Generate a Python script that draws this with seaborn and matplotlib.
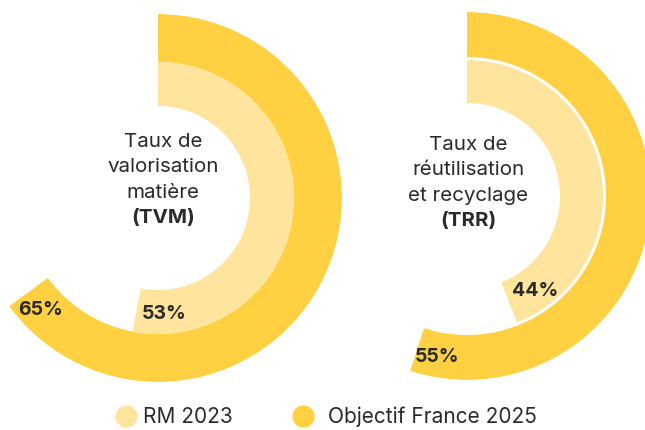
import numpy as np
import matplotlib
matplotlib.use("Agg")
import matplotlib.pyplot as plt
from matplotlib.lines import Line2D
import seaborn as sns

# ---- data ----
charts = ["TVM", "TRR"]
titles = [["Taux de", "valorisation", "matière"], ["Taux de", "réutilisation", "et recyclage"]]
abbrev = ["(TVM)", "(TRR)"]
rm_2023 = [53, 44]          # inner ring (RM 2023)
objectif_2025 = [65, 55]    # outer ring (Objectif France 2025)
series_labels = ["RM 2023", "Objectif France 2025"]

# ---- style ----
sns.set_theme(style="white")
plt.rcParams['font.family'] = ['Inter', 'DejaVu Sans']
LIGHT = "#FFE49E"
DARK = "#FFD142"
TXT = "#2a2a2a"

W, H = 645, 430
fig = plt.figure(figsize=(W / 100, H / 100), dpi=100)

R = 184
centers = [(158, 198), (467, 196)]
ring_outer = [(136, 184), (139, 184)]
ring_inner = [(92, 136), (93, 136)]
text_off = [(5, 18), (1, 13)]

for i, (cx, cy) in enumerate(centers):
    ax = fig.add_axes([(cx - R) / W, (H - cy - R) / H, 2 * R / W, 2 * R / H],
                      projection="polar")
    ax.set_theta_zero_location("N")
    ax.set_theta_direction(-1)
    ax.set_ylim(0, R)
    ax.set_axis_off()

    t_out = objectif_2025[i] / 100 * 2 * np.pi
    t_in = rm_2023[i] / 100 * 2 * np.pi
    ax.bar(0, ring_outer[i][1] - ring_outer[i][0], width=t_out, bottom=ring_outer[i][0],
           align="edge", color=DARK, linewidth=0)
    ax.bar(0, ring_inner[i][1] - ring_inner[i][0], width=t_in, bottom=ring_inner[i][0],
           align="edge", color=LIGHT, linewidth=0)

    # value labels near the end of each arc
    r_o = (ring_outer[i][0] + ring_outer[i][1]) / 2 + 2
    r_i = (ring_inner[i][0] + ring_inner[i][1]) / 2 + 2
    ax.text(t_out - np.deg2rad(7.5), r_o, f"{objectif_2025[i]}%", ha="center", va="center",
            fontsize=14, fontweight="bold", color=TXT)
    ax.text(t_in - np.deg2rad(14), r_i, f"{rm_2023[i]}%", ha="center", va="center",
            fontsize=14, fontweight="bold", color=TXT)

    # centre text
    dx, dy = text_off[i]
    lines = titles[i] + [abbrev[i]]
    n = len(lines)
    spacing = 25.5
    for k, line in enumerate(lines):
        yy = dy + (n - 1) / 2 * spacing - k * spacing
        ax.text(0.5 + dx / (2 * R), 0.5 + yy / (2 * R), line, transform=ax.transAxes,
                ha="center", va="center", fontsize=14.8, color=TXT,
                fontweight="bold" if k == n - 1 else "normal")

# legend: one entry per legend box so each can be placed exactly
fs = 15
fs_px = fs * 100 / 72
marker_x = [126, 303]
text_x = [143, 328]
for c, lab, mx, tx in zip((LIGHT, DARK), series_labels, marker_x, text_x):
    h = Line2D([], [], marker="o", linestyle="none", markersize=16,
               markerfacecolor=c, markeredgecolor="none")
    anchor = mx - fs_px / 2
    pad = (tx - anchor - fs_px) / fs_px
    leg = fig.legend([h], [lab], loc="center left", bbox_to_anchor=(anchor / W, 1 - 417 / H),
                     frameon=False, fontsize=fs, handlelength=1.0, handletextpad=pad,
                     borderpad=0, borderaxespad=0, labelcolor=TXT)

fig.savefig("out.png", dpi=100)
